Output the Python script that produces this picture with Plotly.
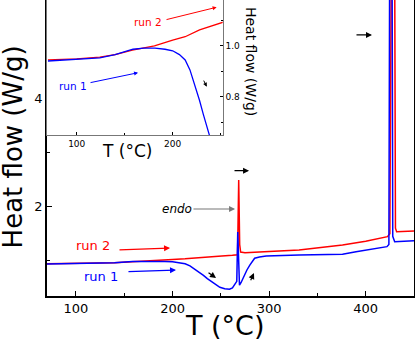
import plotly.graph_objects as go

# Run 1 (blue) – temperature (°C) and heat flow (W/g)
temp_run1 = [70, 100, 124, 140, 158.6, 170, 181.5, 192, 200, 207, 213, 218, 221.5, 225, 228,
             232, 236, 240, 245, 249, 254, 259, 262, 264.6, 266.5, 267.5, 268.5, 269.3, 271,
             274, 277, 280, 285, 290, 297, 331, 376, 390, 418, 422, 424, 424.8, 427.3, 428,
             430, 450]
hf_run1 = [0.94, 0.946, 0.952, 0.965, 0.986, 0.99, 0.99, 0.986, 0.98, 0.965, 0.944, 0.905, 0.865,
           0.82, 0.785, 0.73, 0.67, 0.62, 0.55, 0.51, 0.485, 0.474, 0.50, 0.58, 0.62, 1.53, 0.9,
           0.55, 0.60, 0.72, 0.83, 0.92, 1.046, 1.07, 1.088, 1.106, 1.119, 1.167, 1.241, 1.26,
           1.3, 6.5, 6.5, 1.45, 1.352, 1.37]

# Run 2 (red)
temp_run2 = [70, 100, 124, 140, 158, 181, 200, 213, 228, 239, 251, 262, 267.3, 268.5, 269.5,
             270.5, 275, 300, 331, 376, 400, 422.5, 425, 426.5, 430, 430.8, 432, 450]
hf_run2 = [0.944, 0.948, 0.955, 0.965, 0.983, 0.999, 1.022, 1.035, 1.062, 1.075, 1.09, 1.10,
           1.11, 2.49, 1.3, 1.16, 1.15, 1.17, 1.20, 1.29, 1.36, 1.444, 1.5, 6.5, 6.5, 1.6,
           1.536, 1.549]

FONT = "DejaVu Sans"
RED = "#ff0000"
BLUE = "#0000ff"

fig = go.Figure()
# main plot
fig.add_trace(go.Scatter(x=temp_run2, y=hf_run2, mode="lines",
                         line=dict(color=RED, width=1.5), xaxis="x", yaxis="y"))
fig.add_trace(go.Scatter(x=temp_run1, y=hf_run1, mode="lines",
                         line=dict(color=BLUE, width=1.5), xaxis="x", yaxis="y"))
# inset
fig.add_trace(go.Scatter(x=temp_run2, y=hf_run2, mode="lines",
                         line=dict(color=RED, width=1.3), xaxis="x2", yaxis="y2"))
fig.add_trace(go.Scatter(x=temp_run1, y=hf_run1, mode="lines",
                         line=dict(color=BLUE, width=1.3), xaxis="x2", yaxis="y2"))

common = dict(showgrid=False, zeroline=False, showline=True, mirror=True,
              ticks="inside", tickcolor="black", automargin=False)

fig.update_layout(
    width=415, height=340,
    margin=dict(l=47, r=1, t=0, b=44, autoexpand=False),
    paper_bgcolor="white", plot_bgcolor="white",
    showlegend=False,
    font=dict(family=FONT, color="black"),
    xaxis=dict(domain=[0, 1], range=[70, 450], dtick=100, tick0=0, ticklen=5,
               linecolor="black", linewidth=1.5,
               minor=dict(dtick=50, tick0=0, ticks="inside", ticklen=3, tickcolor="black"),
               tickfont=dict(size=13, family=FONT), **common),
    yaxis=dict(domain=[0, 1], range=[0.35, 5.81], dtick=2, tick0=0, ticklen=5,
               linecolor="black", linewidth=1.5,
               minor=dict(dtick=1, tick0=0, ticks="inside", ticklen=3, tickcolor="black"),
               tickfont=dict(size=13, family=FONT), **common),
    xaxis2=dict(domain=[0, 0.4787], range=[69, 252.1], anchor="y2", dtick=100, tick0=0,
                ticklen=3, linecolor="#777777", linewidth=1,
                minor=dict(dtick=50, tick0=0, ticks="inside", ticklen=2, tickcolor="black"),
                tickfont=dict(size=9, family=FONT), **common),
    yaxis2=dict(domain=[0.544, 1], range=[0.65, 1.179], anchor="x2", side="right",
                dtick=0.2, tick0=0, tickformat=".1f", ticklen=3,
                linecolor="#777777", linewidth=1,
                minor=dict(dtick=0.1, tick0=0, ticks="inside", ticklen=2, tickcolor="black"),
                tickfont=dict(size=9, family=FONT), **common),
)

annotations = []
# axis titles (main)
annotations.append(dict(text="Heat flow (W/g)", xref="paper", yref="paper", x=-0.093, y=0.505,
                        textangle=-90, showarrow=False, font=dict(size=26, family=FONT),
                        xanchor="center", yanchor="middle"))
annotations.append(dict(text="T (°C)", xref="paper", yref="paper", x=0.485, y=-0.10,
                        showarrow=False, font=dict(size=27, family=FONT),
                        xanchor="center", yanchor="middle"))
# axis titles (inset)
annotations.append(dict(text="T (°C)", xref="paper", yref="paper", x=0.219, y=0.49,
                        showarrow=False, font=dict(size=17, family=FONT),
                        xanchor="center", yanchor="middle"))
annotations.append(dict(text="Heat flow (W/g)", xref="paper", yref="paper", x=0.556, y=0.794,
                        textangle=90, showarrow=False, font=dict(size=14, family=FONT),
                        xanchor="center", yanchor="middle"))


def arrow(x, y, ax, ay, color, xr="x", yr="y", width=1.2, size=1.0):
    return dict(x=x, y=y, ax=ax, ay=ay, xref=xr, yref=yr, axref=xr, ayref=yr, text="",
                showarrow=True, arrowhead=2, arrowsize=size, arrowwidth=width,
                arrowcolor=color)


def label(x, y, text, color, size, xr="x", yr="y"):
    return dict(x=x, y=y, xref=xr, yref=yr, text=text, showarrow=False,
                font=dict(size=size, color=color, family=FONT),
                xanchor="center", yanchor="middle")

# main plot labels & arrows
annotations.append(label(117.6, 1.273, "run 2", RED, 13))
annotations.append(arrow(197.4, 1.236, 143.5, 1.199, RED))
annotations.append(label(125.9, 0.719, "run 1", BLUE, 13))
annotations.append(arrow(203.6, 0.83, 152.8, 0.798, BLUE))
annotations.append(label(204.6, 1.955, "<i>endo</i>", "black", 12))
annotations.append(arrow(264.7, 1.955, 220.1, 1.955, "#777777"))
annotations.append(arrow(279.2, 2.662, 262.6, 2.662, "black"))
annotations.append(arrow(406.5, 5.166, 388.9, 5.166, "black"))
annotations.append(arrow(245.0, 0.682, 235.7, 0.798, "black"))
annotations.append(arrow(284.3, 0.774, 280.2, 0.614, "black"))
# inset labels & arrows
annotations.append(label(174.3, 1.094, "run 2", RED, 10.5, "x2", "y2"))
annotations.append(arrow(245.8, 1.1506, 192, 1.1008, RED, "x2", "y2", 1.0, 0.8))
annotations.append(label(96.5, 0.842, "run 1", BLUE, 10.5, "x2", "y2"))
annotations.append(arrow(163.9, 0.894, 112.8, 0.854, BLUE, "x2", "y2", 1.0, 0.8))
annotations.append(arrow(235.5, 0.839, 231.6, 0.869, "black", "x2", "y2", 1.0, 0.8))

fig.update_layout(annotations=annotations)
fig.write_html("out.html", config={"displayModeBar": False},
               post_script="document.body.style.margin='0';document.body.style.overflow='hidden';")
